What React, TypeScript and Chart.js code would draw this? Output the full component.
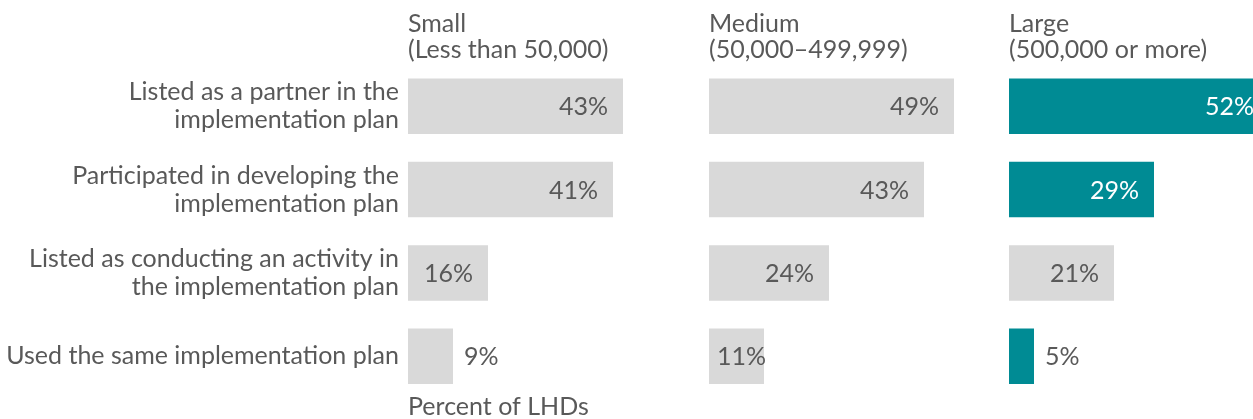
import React, { useEffect, useRef } from 'react';
import { Chart, registerables } from 'chart.js';

Chart.register(...registerables);

// ---------- data ----------
const categories: (string | string[])[] = [
  ['Listed as a partner in the', 'implementation plan'],
  ['Participated in developing the', 'implementation plan'],
  ['Listed as conducting an activity in', 'the implementation plan'],
  'Used the same implementation plan',
];

const smallTitle = ['Small', '(Less than 50,000)'];
const mediumTitle = ['Medium', '(50,000–499,999)'];
const largeTitle = ['Large', '(500,000 or more)'];

const smallValues = [43, 41, 16, 9];
const mediumValues = [49, 43, 24, 11];
const largeValues = [52, 29, 21, 5];

const xAxisTitle = 'Percent of LHDs';
const xMin = 0;
const xMax = 60;

// ---------- styles ----------
const GRAY = '#D9D9D9';
const TEAL = '#008B94';
const TEXT = '#595959';
const FONT = 'Lato, "Open Sans", sans-serif';

const smallColors = [GRAY, GRAY, GRAY, GRAY];
const mediumColors = [GRAY, GRAY, GRAY, GRAY];
const largeColors = [TEAL, TEAL, GRAY, TEAL];

const valueLabelPlugin = {
  id: 'valueLabels',
  afterDatasetsDraw(chart: any) {
    const ctx = chart.ctx as CanvasRenderingContext2D;
    const ds = chart.data.datasets[0];
    const meta = chart.getDatasetMeta(0);
    ctx.save();
    ctx.font = `25px ${FONT}`;
    ctx.textBaseline = 'middle';
    meta.data.forEach((bar: any, i: number) => {
      const v = ds.data[i] as number;
      const text = `${v}%`;
      const { x, y, base } = bar.getProps(['x', 'y', 'base'], true);
      const w = x - base;
      const tw = ctx.measureText(text).width;
      const bg = (ds.backgroundColor as string[])[i];
      const inColor = bg === TEAL ? '#FFFFFF' : TEXT;
      if (v < 10) {
        ctx.textAlign = 'left';
        ctx.fillStyle = TEXT;
        ctx.fillText(text, x + 11, y + 1);
      } else if (w >= tw + 30) {
        ctx.textAlign = 'right';
        ctx.fillStyle = inColor;
        ctx.fillText(text, x - 15, y + 1);
      } else {
        ctx.textAlign = 'right';
        ctx.fillStyle = inColor;
        ctx.fillText(text, x + 2, y + 1);
      }
    });
    ctx.restore();
  },
};

type PanelProps = {
  width: number;
  values: number[];
  colors: string[];
  title: string[];
  showY: boolean;
  showXTitle: boolean;
  padRight: number;
};

function Panel({ width, values, colors, title, showY, showXTitle, padRight }: PanelProps) {
  const ref = useRef<HTMLCanvasElement>(null);
  useEffect(() => {
    const chart = new Chart(ref.current as HTMLCanvasElement, {
      type: 'bar',
      data: {
        labels: categories as any,
        datasets: [
          {
            data: values,
            backgroundColor: colors,
            borderWidth: 0,
            barPercentage: 0.667,
            categoryPercentage: 1,
          },
        ],
      },
      options: {
        indexAxis: 'y',
        responsive: false,
        animation: false,
        devicePixelRatio: 1,
        layout: { padding: { left: 0, right: padRight, top: 0, bottom: 0 } },
        plugins: {
          legend: { display: false },
          tooltip: { enabled: false },
          title: {
            display: true,
            text: title,
            align: 'start',
            position: 'top',
            fullSize: false,
            color: TEXT,
            font: { family: FONT, size: 25, weight: 'normal', lineHeight: 1.03 },
            padding: { top: 11, bottom: 2 },
          } as any,
        },
        scales: {
          x: {
            min: xMin,
            max: xMax,
            display: true,
            grid: { display: false, drawTicks: false },
            border: { display: false },
            ticks: { display: false },
            title: {
              display: showXTitle,
              text: xAxisTitle,
              align: 'start',
              color: TEXT,
              font: { family: FONT, size: 25, lineHeight: 1 },
              padding: 0,
            },
            afterFit: (s: any) => {
              s.height = 21;
              s.paddingLeft = 0;
              s.paddingRight = 0;
            },
          },
          y: {
            display: showY,
            grid: { display: false, drawTicks: false },
            border: { display: false },
            ticks: {
              color: TEXT,
              font: { family: FONT, size: 25, lineHeight: 1.12 },
              padding: 9,
            },
            afterFit: (s: any) => {
              if (showY) s.width = 408;
              s.paddingTop = 0;
              s.paddingBottom = 0;
            },
          },
        },
      },
      plugins: [valueLabelPlugin],
    });
    return () => chart.destroy();
  }, []);
  return (
    <canvas
      ref={ref}
      width={width}
      height={419}
      style={{ display: 'block', width: `${width}px`, height: '419px', flex: '0 0 auto' }}
    />
  );
}

export default function App() {
  return (
    <div
      style={{
        position: 'absolute',
        left: 0,
        top: 0,
        width: '1253px',
        height: '419px',
        overflow: 'hidden',
        display: 'flex',
        background: '#FFFFFF',
      }}
    >
      <Panel width={709} values={smallValues} colors={smallColors} title={smallTitle} showY showXTitle padRight={1} />
      <Panel width={300} values={mediumValues} colors={mediumColors} title={mediumTitle} showY={false} showXTitle={false} padRight={0} />
      <Panel width={300} values={largeValues} colors={largeColors} title={largeTitle} showY={false} showXTitle={false} padRight={0} />
    </div>
  );
}
